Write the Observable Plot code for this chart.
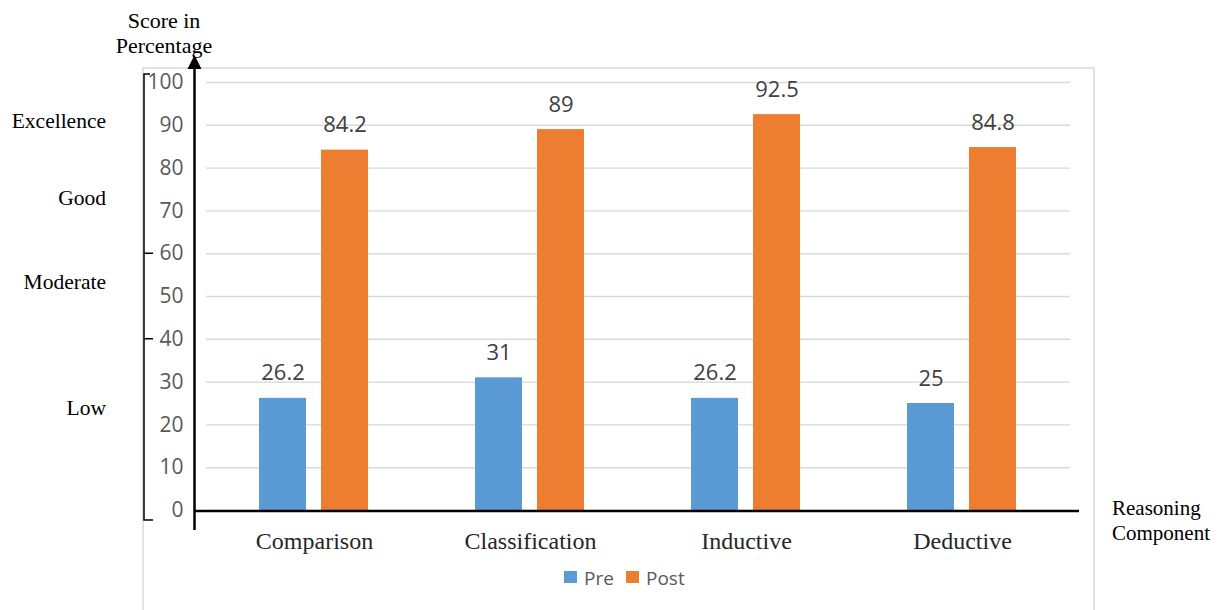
<!DOCTYPE html>
<html>
<head>
<meta charset="utf-8">
<script src="https://cdn.jsdelivr.net/npm/d3@7"></script>
<script src="https://cdn.jsdelivr.net/npm/@observablehq/plot@0.6"></script>
<style>
  body { margin: 0; background: #fff; }
  #chart svg { display: block; background: #fff; }
</style>
</head>
<body>
<div id="chart"></div>
<script>
// ---- data ----
const categories = ["Comparison", "Classification", "Inductive", "Deductive"];
const series = ["Pre", "Post"];
const preValues = [26.2, 31, 26.2, 25];
const postValues = [84.2, 89, 92.5, 84.8];
const yTicks = [0, 10, 20, 30, 40, 50, 60, 70, 80, 90, 100];
const seriesColors = ["#5b9bd5", "#ed7d31"];
const levelLabels = ["Excellence", "Good", "Moderate", "Low"];
const levelValues = [91, 73, 53.5, 24];
const bracketBreaks = [60, 40];
const yTitle = ["Score in", "Percentage"];
const xTitle = ["Reasoning", "Component"];

const rows = [];
categories.forEach((c, i) => {
  rows.push({cat: c, series: "Pre", value: preValues[i]});
  rows.push({cat: c, series: "Post", value: postValues[i]});
});

const W = 1217, H = 610;
const serif = "'Liberation Serif', 'Times New Roman', serif";
const sans = "'Open Sans', 'Liberation Sans', sans-serif";

const plot = Plot.plot({
  width: W,
  height: H,
  marginLeft: 205,
  marginRight: 147,
  marginTop: 82,
  marginBottom: 100,
  style: {background: "#fff"},
  fx: {domain: categories, padding: 0, label: null},
  x: {domain: series, axis: null, paddingInner: 0.238, paddingOuter: 0.835},
  y: {domain: [0, 100], label: null},
  color: {domain: series, range: seriesColors},
  marks: [
    Plot.ruleY(yTicks, {stroke: "#d9d9d9", strokeWidth: 1.4}),
    Plot.barY(rows, {fx: "cat", x: "series", y: "value", fill: "series"}),
    Plot.text(rows, {fx: "cat", x: "series", y: "value", text: d => String(d.value),
      dy: -25, fontSize: 22, fontFamily: sans, fill: "#404040"}),
    Plot.axisY(yTicks, {tickSize: 0, tickPadding: 23, fontSize: 21, fontFamily: sans,
      color: "#595959", label: null}),
    Plot.axisFx({anchor: "bottom", tickSize: 0, tickPadding: 21, fontSize: 24,
      fontFamily: serif, color: "#262626", label: null})
  ]
});

document.getElementById("chart").appendChild(plot);

// ---- decorations drawn with the plot's own y scale ----
const y = v => plot.scale("y").apply(v);
const svg = d3.select(plot);
const y0 = y(0), y100 = y(100);

// outer chart frame (light gray)
svg.insert("rect", ":first-child")
  .attr("x", 143).attr("y", 68).attr("width", 951).attr("height", H)
  .attr("fill", "none").attr("stroke", "#d9d9d9").attr("stroke-width", 1.5);

const deco = svg.append("g").attr("text-anchor", "start");

// bracket with level breaks
const bTop = y100 - 8, bBot = y0 + 10;
let path = `M150,${bTop}H144V${bBot}H153`;
bracketBreaks.forEach(v => { path += `M144,${y(v)}H153`; });
deco.append("path").attr("d", path).attr("fill", "none")
  .attr("stroke", "#000").attr("stroke-width", 1.5);

// vertical arrow axis
deco.append("line").attr("x1", 194.5).attr("x2", 194.5)
  .attr("y1", y0 + 20).attr("y2", 66)
  .attr("stroke", "#000").attr("stroke-width", 2.5);
deco.append("path").attr("d", `M194.5,55L187.5,69L201.5,69Z`).attr("fill", "#000");

// horizontal axis line
deco.append("line").attr("x1", 194).attr("x2", 1079)
  .attr("y1", y0 + 1).attr("y2", y0 + 1)
  .attr("stroke", "#000").attr("stroke-width", 2.5);

// level labels
deco.selectAll("text.level").data(levelLabels).join("text")
  .attr("class", "level")
  .attr("x", 106).attr("y", (d, i) => y(levelValues[i]))
  .attr("dy", "0.35em").attr("text-anchor", "end")
  .attr("font-family", serif).attr("font-size", 21.5).attr("fill", "#000")
  .text(d => d);

// y title
deco.selectAll("text.ytitle").data(yTitle).join("text")
  .attr("class", "ytitle")
  .attr("x", 164).attr("y", (d, i) => 20 + i * 25)
  .attr("dy", "0.35em").attr("text-anchor", "middle")
  .attr("font-family", serif).attr("font-size", 22).attr("fill", "#000")
  .text(d => d);

// x title
deco.selectAll("text.xtitle").data(xTitle).join("text")
  .attr("class", "xtitle")
  .attr("x", 1112).attr("y", (d, i) => y0 - 2 + i * 25)
  .attr("dy", "0.35em").attr("text-anchor", "start")
  .attr("font-family", serif).attr("font-size", 21).attr("fill", "#000")
  .text(d => d);

// legend
const legendX = [564, 626];
const lg = deco.selectAll("g.legend").data(series).join("g")
  .attr("class", "legend")
  .attr("transform", (d, i) => `translate(${legendX[i]},571)`);
lg.append("rect").attr("width", 13).attr("height", 12)
  .attr("fill", d => plot.scale("color").apply(d));
lg.append("text").attr("x", 20).attr("y", 7).attr("dy", "0.35em")
  .attr("text-anchor", "start")
  .attr("font-family", sans).attr("font-size", 19).attr("fill", "#595959")
  .text(d => d);
</script>
</body>
</html>
